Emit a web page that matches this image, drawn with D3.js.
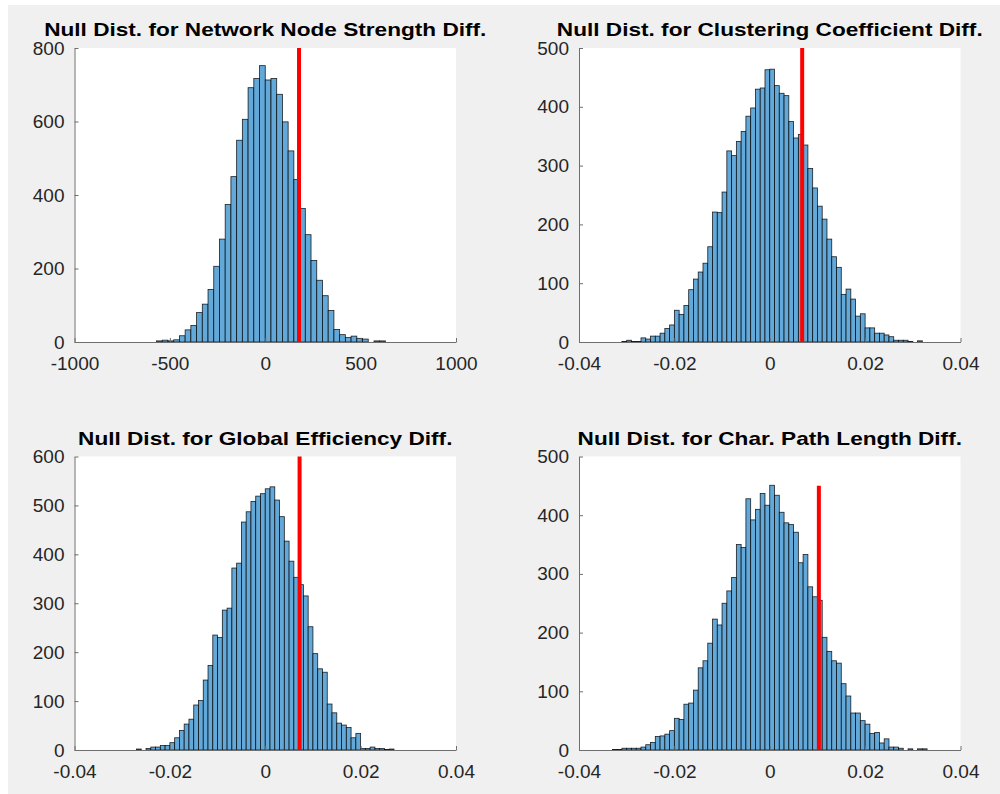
<!DOCTYPE html>
<html>
<head>
<meta charset="utf-8">
<script src="https://cdn.jsdelivr.net/npm/d3@7"></script>
<style>
	body { margin: 0; background: #fff; }
	svg { display: block; }
	.tick text { font-family: "Liberation Sans", Arial, sans-serif; font-size: 19px; fill: #262626; }
	.title { font-family: "Liberation Sans", Arial, sans-serif; font-size: 19px; font-weight: bold; fill: #000; }
</style>
</head>
<body>
<svg id="plot"></svg>
<script>
const WIDTH = 1000;
const HEIGHT = 794;

// histogram counts
const strengthStart = -570;
const strengthBinWidth = 30;
const strengthCounts = [3, 5, 3, 6, 17, 33, 45, 80, 103, 143, 206, 280, 374, 450, 549, 606, 692, 717, 752,
	713, 717, 674, 599, 520, 442, 363, 292, 222, 168, 126, 86, 34, 20, 12, 16, 10, 8, 0, 3, 3];

const clusteringStart = -0.031;
const clusteringBinWidth = 0.001;
const clusteringCounts = [1, 3, 1, 1, 7, 5, 10, 10, 15, 23, 29, 54, 47, 62, 89, 107, 119, 134, 162, 221, 220,
	255, 325, 317, 341, 358, 384, 398, 430, 432, 463,
	464, 436, 423, 419, 375, 347, 353, 335, 295, 262, 231, 209, 175, 145, 127, 81, 90, 73, 44, 48, 24, 24,
	15, 15, 12, 9, 3, 3, 3, 1, 0, 2];

const efficiencyStart = -0.027;
const efficiencyBinWidth = 0.001;
const efficiencyCounts = [2, 0, 3, 6, 6, 9, 9, 15, 25, 40, 53, 63, 92, 101, 143, 173, 235, 230, 286, 290, 372,
	382, 466, 487, 508, 519, 524,
	534, 538, 511, 477, 427, 386, 353, 338, 315, 252, 197, 166, 159, 94, 76, 55, 51, 46, 25, 34, 3, 3, 6, 3, 3, 1, 2];

const pathStart = -0.033;
const pathBinWidth = 0.001;
const pathCounts = [1, 1, 3, 3, 3, 3, 5, 9, 13, 23, 24, 27, 33, 54, 52, 78, 80, 102, 140, 152, 182, 223, 213,
	250, 271, 294, 350, 345, 428, 392, 410, 437, 417,
	451, 434, 405, 387, 384, 371, 319, 333, 278, 261, 255, 192, 168, 152, 148, 113, 92, 63, 63, 50, 44, 28,
	30, 12, 19, 5, 5, 3, 0, 2, 0, 2, 2];

const titles = [
	"Null Dist. for Network Node Strength Diff.",
	"Null Dist. for Clustering Coefficient Diff.",
	"Null Dist. for Global Efficiency Diff.",
	"Null Dist. for Char. Path Length Diff.",
];
const observed = [177, 0.0068, 0.0072, 0.0103];
const observedTop = [800, 500, 600, 450];
const xTicksStrength = [-1000, -500, 0, 500, 1000];
const xTicksSmall = [-0.04, -0.02, 0, 0.02, 0.04];
const yMax = [800, 500, 600, 500];
const yStep = [200, 100, 100, 100];

const svg = d3.select("#plot").attr("width", WIDTH).attr("height", HEIGHT);

svg.append("rect")
	.attr("x", 8).attr("y", 5)
	.attr("width", WIDTH - 8).attr("height", HEIGHT - 5)
	.attr("fill", "#f0f0f0");

// plain hyphen minus like the original figure
const fmt = d => String(d);

const panels = [
	{ counts: strengthCounts, start: strengthStart, bw: strengthBinWidth, xDomain: [-1000, 1000], xTicks: xTicksStrength, left: 74.5, top: 48 },
	{ counts: clusteringCounts, start: clusteringStart, bw: clusteringBinWidth, xDomain: [-0.04, 0.04], xTicks: xTicksSmall, left: 579, top: 48 },
	{ counts: efficiencyCounts, start: efficiencyStart, bw: efficiencyBinWidth, xDomain: [-0.04, 0.04], xTicks: xTicksSmall, left: 74.5, top: 456.5 },
	{ counts: pathCounts, start: pathStart, bw: pathBinWidth, xDomain: [-0.04, 0.04], xTicks: xTicksSmall, left: 579, top: 456.5 },
];
const plotW = 381.5;
const plotH = [294, 294, 293.5, 293.5];

panels.forEach((p, i) => {
	const g = svg.append("g").attr("transform", `translate(${p.left},${p.top})`);
	const h = plotH[i];
	const x = d3.scaleLinear(p.xDomain, [0, plotW]);
	const y = d3.scaleLinear([0, yMax[i]], [h, 0]);

	g.append("rect").attr("width", plotW).attr("height", h).attr("fill", "#fff");

	const bins = p.counts.map((c, k) => ({
		x0: p.start + k * p.bw,
		x1: p.start + (k + 1) * p.bw,
		c,
	})).filter(b => b.c > 0);

	g.selectAll(".bar")
		.data(bins)
		.join("rect")
		.attr("class", "bar")
		.attr("x", d => x(d.x0))
		.attr("width", d => x(d.x1) - x(d.x0))
		.attr("y", d => y(d.c))
		.attr("height", d => h - y(d.c))
		.attr("fill", "#62a8d8")
		.attr("stroke", "#000")
		.attr("stroke-opacity", 0.85)
		.attr("stroke-width", 0.8);

	g.append("line")
		.attr("x1", x(observed[i])).attr("x2", x(observed[i]))
		.attr("y1", y(0)).attr("y2", y(observedTop[i]))
		.attr("stroke", "#ff0000")
		.attr("stroke-width", 4);

	const xAxis = d3.axisBottom(x)
		.tickValues(p.xTicks)
		.tickFormat(fmt)
		.tickSizeInner(-4)
		.tickSizeOuter(0)
		.tickPadding(15);
	const yAxis = d3.axisLeft(y)
		.tickValues(d3.range(0, yMax[i] + 1, yStep[i]))
		.tickFormat(fmt)
		.tickSizeInner(-4)
		.tickSizeOuter(0)
		.tickPadding(10);

	const gx = g.append("g").attr("transform", `translate(0,${h})`).call(xAxis);
	const gy = g.append("g").call(yAxis);
	[gx, gy].forEach(a => {
		a.select(".domain").attr("stroke", "#6e6e6e");
		a.selectAll(".tick line").attr("stroke", "#6e6e6e");
	});

	const t = g.append("text")
		.attr("class", "title")
		.attr("x", plotW / 2)
		.attr("y", -12)
		.attr("text-anchor", "middle")
		.text(titles[i]);
	const natural = t.node().getComputedTextLength();
	t.attr("textLength", natural * 1.19).attr("lengthAdjust", "spacingAndGlyphs");
});
</script>
</body>
</html>
